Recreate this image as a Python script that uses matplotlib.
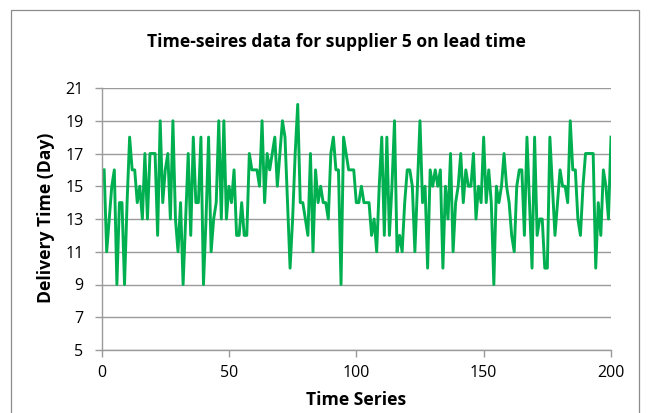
import matplotlib
matplotlib.use("Agg")
import matplotlib.pyplot as plt
from matplotlib.patches import Rectangle

title = "Time-seires data for supplier 5 on lead time"
x_label = "Time Series"
y_label = "Delivery Time (Day)"
x_ticks = [0, 50, 100, 150, 200]
y_ticks = [5, 7, 9, 11, 13, 15, 17, 19, 21]

delivery_time = [
    16, 11, 13, 15, 16, 9, 14, 14, 9, 14,
    18, 16, 16, 14, 15, 13, 17, 13, 17, 17,
    17, 12, 19, 14, 16, 17, 13, 19, 13, 11,
    14, 9, 13, 17, 12, 18, 14, 14, 18, 9,
    13, 18, 11, 13, 14, 19, 13, 19, 13, 15,
    14, 16, 12, 12, 14, 12, 12, 17, 16, 16,
    16, 15, 19, 14, 17, 16, 17, 18, 15, 17,
    19, 18, 14, 10, 13, 17, 20, 14, 14, 13,
    12, 17, 11, 16, 14, 15, 14, 14, 13, 17,
    18, 16, 16, 9, 18, 17, 16, 16, 16, 14,
    14, 15, 14, 14, 14, 12, 13, 11, 15, 18,
    12, 18, 12, 15, 19, 11, 12, 11, 14, 16,
    16, 15, 11, 15, 19, 14, 15, 10, 16, 15,
    16, 15, 16, 10, 15, 13, 17, 11, 14, 15,
    17, 14, 16, 15, 15, 17, 13, 15, 14, 18,
    14, 16, 14, 9, 15, 14, 15, 17, 15, 14,
    12, 11, 15, 16, 16, 12, 18, 14, 10, 18,
    12, 13, 13, 10, 10, 18, 15, 12, 14, 16,
    15, 15, 14, 19, 16, 16, 13, 12, 15, 17,
    17, 17, 17, 10, 14, 12, 16, 15, 13, 18,
]
time_index = list(range(1, len(delivery_time) + 1))

W, H = 650, 413
fig = plt.figure(figsize=(W / 100, H / 100), dpi=100)
fig.patch.set_facecolor("white")

# outer chart border
fig.patches.append(Rectangle((11 / W, -0.01), (639 - 11) / W, (H - 10) / H + 0.01,
                             transform=fig.transFigure, fill=False,
                             edgecolor="#8c8c8c", linewidth=0.9))

left, right, top, bottom = 101.6, 611, 88, 350
ax = fig.add_axes([left / W, (H - bottom) / H, (right - left) / W, (bottom - top) / H])
ax.set_facecolor("white")

grid_c = "#9a9a9a"
ax.plot(time_index, delivery_time, color="#00b050", linewidth=2.1, solid_joinstyle="round")

ax.set_xlim(0, 200)
ax.set_ylim(5, 21)
ax.set_xticks(x_ticks)
ax.set_yticks(y_ticks)
ax.yaxis.grid(True, color=grid_c, linewidth=1.0)
ax.set_axisbelow(True)
for s in ["top", "right"]:
    ax.spines[s].set_visible(False)
for s in ["left", "bottom"]:
    ax.spines[s].set_color(grid_c)
    ax.spines[s].set_linewidth(1.0)
ax.tick_params(axis="both", direction="out", length=5, width=1.0, color=grid_c,
               labelsize=11.5, labelcolor="black")
ax.tick_params(axis="y", pad=8)
ax.tick_params(axis="x", pad=6)
for lab in ax.get_xticklabels() + ax.get_yticklabels():
    lab.set_family("Open Sans")

fig.text(336 / W, 1 - 42 / H, title, ha="center", va="center",
         fontsize=12.6, fontweight="bold", family="Open Sans")
fig.text(356 / W, 1 - 400 / H, x_label, ha="center", va="center",
         fontsize=12.6, fontweight="bold", family="Open Sans")
fig.text(46 / W, 1 - 218 / H, y_label, ha="center", va="center", rotation=90,
         fontsize=12.6, fontweight="bold", family="Open Sans")

fig.savefig("out.png", dpi=100, facecolor="white")
